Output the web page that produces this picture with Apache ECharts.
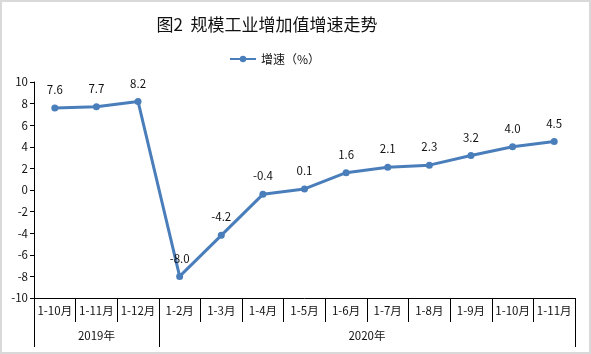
<!DOCTYPE html>
<html><head><meta charset="utf-8">
<script src="https://cdn.jsdelivr.net/npm/echarts@6/dist/echarts.min.js"></script>
<style>html,body{margin:0;padding:0;background:#fff}#c{width:591px;height:354px;box-sizing:border-box;border:2px solid #d9d9d9}</style>
</head><body><div id="c"></div>
<script>
var categories = ['1-10月','1-11月','1-12月','1-2月','1-3月','1-4月','1-5月','1-6月','1-7月','1-8月','1-9月','1-10月','1-11月'];
var values = [7.6, 7.7, 8.2, -8.0, -4.2, -0.4, 0.1, 1.6, 2.1, 2.3, 3.2, 4.0, 4.5];
var groups = [{name:'2019年', start:0, end:3}, {name:'2020年', start:3, end:13}];
var seriesName = '增速（%）';
var titleText = '图2  规模工业增加值增速走势';

var font = '"Noto Sans CJK SC", "Noto Sans", sans-serif';
var chart = echarts.init(document.getElementById('c'));
var option = {
  animation: false,
  backgroundColor: '#fff',
  textStyle: {fontFamily: font},
  title: {text: titleText, left: 260, top: 9, textAlign: 'center',
    textStyle: {fontSize: 17, fontWeight: 'normal', color: '#111', fontFamily: font}},
  legend: {data: [seriesName], top: 46, left: 222, itemWidth: 26, itemHeight: 8, itemGap: 4,
    textStyle: {fontSize: 12, color: '#111'}},
  grid: {left: 32, right: 14, top: 80, bottom: 54, containLabel: false},
  xAxis: {type: 'category', data: categories, boundaryGap: true,
    axisLine: {onZero: false, lineStyle: {color: '#000', width: 1}},
    axisTick: {show: true, interval: 0, length: 24, lineStyle: {color: '#000'}},
    axisLabel: {interval: 0, fontSize: 11.5, color: '#111', margin: 7}},
  yAxis: {type: 'value', min: -10, max: 10, interval: 2,
    splitLine: {show: false},
    axisLine: {show: true, lineStyle: {color: '#000'}},
    axisTick: {show: true, length: 4, lineStyle: {color: '#000'}},
    axisLabel: {fontSize: 11.5, color: '#111', margin: 6}},
  series: [{name: seriesName, type: 'line', data: values,
    symbol: 'circle', symbolSize: 7,
    lineStyle: {color: '#4a7ebb', width: 3},
    itemStyle: {color: '#4a7ebb'},
    label: {show: true, position: 'top', distance: 9, fontSize: 11.5, color: '#111',
      formatter: function(p){ return p.value.toFixed(1); }}}]
};
chart.setOption(option);

function drawGroups(){
  var x0 = chart.convertToPixel({xAxisIndex: 0}, 0);
  var x1 = chart.convertToPixel({xAxisIndex: 0}, 1);
  var w = x1 - x0;
  var yAxisPix = chart.convertToPixel({yAxisIndex: 0}, -10);
  var bottom = yAxisPix + 49;
  var els = [];
  var bounds = {};
  groups.forEach(function(g){ bounds[g.start] = 1; bounds[g.end] = 1; });
  Object.keys(bounds).forEach(function(b){
    var x = Math.round(x0 - w/2 + (+b) * w) + 0.5;
    els.push({type: 'line', shape: {x1: x, y1: yAxisPix, x2: x, y2: bottom},
      style: {stroke: '#000', lineWidth: 1}, silent: true});
  });
  groups.forEach(function(g){
    var cx = x0 - w/2 + (g.start + g.end) / 2 * w;
    els.push({type: 'text', x: cx, y: yAxisPix + 38,
      style: {text: g.name, fontSize: 11.5, fill: '#111', fontFamily: font, align: 'center', verticalAlign: 'middle'}, silent: true});
  });
  chart.setOption({graphic: els});
}
drawGroups();
</script></body></html>
